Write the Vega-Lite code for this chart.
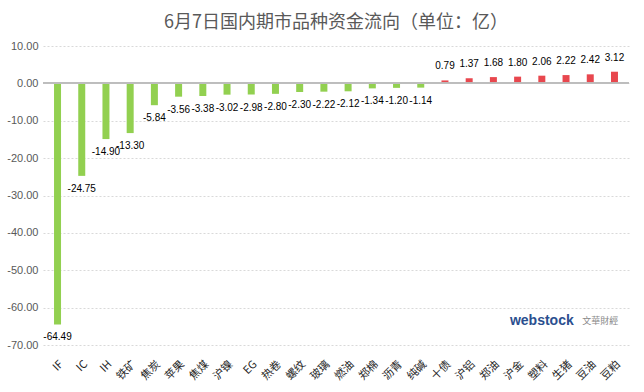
{
  "$schema": "https://vega.github.io/schema/vega-lite/v6.json",
  "width": 644,
  "height": 392,
  "autosize": {"type": "fit", "contains": "padding"},
  "padding": {"left": 6, "right": 14, "top": 14, "bottom": 10},
  "background": "#ffffff",
  "config": {
    "view": {"stroke": null},
    "font": "Noto Sans CJK SC",
    "locale": {
      "number": {"decimal": ".", "thousands": ",", "grouping": [3], "currency": ["", ""], "minus": "-"}
    }
  },
  "title": {
    "text": "6月7日国内期市品种资金流向（单位：亿）",
    "fontSize": 18,
    "fontWeight": "normal",
    "color": "#595959",
    "font": "Noto Sans CJK SC",
    "offset": 8
  },
  "data": {
    "values": [
      {"name": "IF", "value": -64.49},
      {"name": "IC", "value": -24.75},
      {"name": "IH", "value": -14.90},
      {"name": "铁矿", "value": -13.30},
      {"name": "焦炭", "value": -5.84},
      {"name": "苹果", "value": -3.56},
      {"name": "焦煤", "value": -3.38},
      {"name": "沪镍", "value": -3.02},
      {"name": "EG", "value": -2.98},
      {"name": "热卷", "value": -2.80},
      {"name": "螺纹", "value": -2.30},
      {"name": "玻璃", "value": -2.22},
      {"name": "燃油", "value": -2.12},
      {"name": "郑棉", "value": -1.34},
      {"name": "沥青", "value": -1.20},
      {"name": "纯碱", "value": -1.14},
      {"name": "十债", "value": 0.79},
      {"name": "沪铝", "value": 1.37},
      {"name": "郑油", "value": 1.68},
      {"name": "沪金", "value": 1.80},
      {"name": "塑料", "value": 2.06},
      {"name": "生猪", "value": 2.22},
      {"name": "豆油", "value": 2.42},
      {"name": "豆粕", "value": 3.12}
    ]
  },
  "encoding": {
    "x": {
      "field": "name",
      "type": "nominal",
      "sort": null,
      "scale": {"paddingInner": 0.7, "paddingOuter": 0.45},
      "axis": {
        "title": null,
        "labelAngle": -45,
        "domain": false,
        "ticks": false,
        "labelColor": "#262626",
        "labelFontSize": 11,
        "labelPadding": 13,
        "labelFont": "Noto Sans CJK SC"
      }
    },
    "y": {
      "field": "value",
      "type": "quantitative",
      "scale": {"domain": [-70, 10], "nice": false},
      "axis": {
        "title": null,
        "values": [-70, -60, -50, -40, -30, -20, -10, 0, 10],
        "format": ".2f",
        "domain": false,
        "ticks": false,
        "labelColor": "#595959",
        "labelFontSize": 11,
        "labelFont": "Liberation Sans",
        "labelPadding": 5,
        "gridColor": "#D9D9D9",
        "gridDash": [2, 2]
      }
    }
  },
  "layer": [
    {
      "mark": {"type": "bar", "width": 7},
      "encoding": {
        "color": {
          "condition": {"test": "datum.value < 0", "value": "#92D050"},
          "value": "#E8474E"
        }
      }
    },
    {
      "mark": {"type": "rule", "color": "#BFBFBF", "strokeWidth": 1},
      "encoding": {"x": {"value": 0}, "x2": {"value": "width"}, "y": {"datum": 0}}
    },
    {
      "transform": [{"filter": "datum.value < 0"}],
      "mark": {"type": "text", "dy": 13, "fontSize": 10, "font": "Liberation Sans", "color": "#000000"},
      "encoding": {"text": {"field": "value", "type": "quantitative", "format": ".2f"}}
    },
    {
      "transform": [{"filter": "datum.value > 0"}],
      "mark": {"type": "text", "dy": -14, "fontSize": 10, "font": "Liberation Sans", "color": "#000000"},
      "encoding": {"text": {"field": "value", "type": "quantitative", "format": ".2f"}}
    },
    {
      "transform": [{"filter": "datum.name === '塑料'"}],
      "mark": {"type": "text", "font": "Liberation Sans", "fontSize": 14, "fontWeight": "bold", "color": "#2B4F8F", "align": "center", "baseline": "middle"},
      "encoding": {"y": {"datum": -63.5}, "text": {"value": "webstock"}}
    },
    {
      "transform": [{"filter": "datum.name === '豆油'"}],
      "mark": {"type": "text", "font": "Noto Sans CJK TC", "fontSize": 9, "color": "#888888", "align": "center", "baseline": "middle", "dx": 10},
      "encoding": {"y": {"datum": -63.5}, "text": {"value": "文華財經"}}
    }
  ]
}
